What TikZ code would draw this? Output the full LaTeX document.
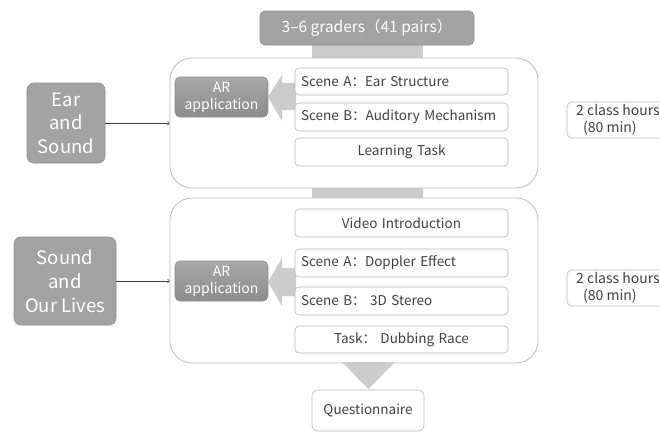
\documentclass[tikz,border=0pt]{standalone}
\usepackage{fontspec}
\setmainfont{Noto Sans CJK SC}
\definecolor{txt}{HTML}{404040}
\definecolor{gfill}{HTML}{A3A3A3}
\definecolor{gbord}{HTML}{8C8C8C}
\definecolor{wbord}{HTML}{B8B8B8}
\definecolor{cbord}{HTML}{BDBDBD}
\definecolor{barfill}{HTML}{CCCCCC}
\begin{document}
\begin{tikzpicture}[x=1pt,y=-1pt,
  graybox/.style={draw=gbord, fill=gfill, rounded corners=7pt, text=white, inner sep=0pt, align=center, line width=0.6pt},
  arbox/.style={draw=gbord, top color=gfill!95, bottom color=gbord, rounded corners=5pt, text=white, inner sep=0pt, align=center, line width=0.6pt, minimum width=93pt, minimum height=40pt, font=\fontsize{14}{17}\selectfont},
  wbox/.style={draw=wbord, fill=white, rounded corners=4pt, inner ysep=0pt, inner xsep=6pt, text=txt, line width=0.6pt, minimum height=28pt, font=\fontsize{13.5}{16}\selectfont},
  sceneleft/.style={wbox, text width=201pt, align=left},
  scenemid/.style={wbox, text width=201pt, align=center},
  container/.style={draw=cbord, rounded corners=22pt, inner sep=0pt, line width=0.8pt},
  barstyle/.style={fill=barfill},
  conn/.style={draw=txt, line width=0.6pt, ->},
  hoursbox/.style={draw=wbord, rounded corners=5pt, line width=0.6pt, inner sep=0pt, minimum width=133pt, minimum height=36pt},
  hourstext/.style={text=txt, inner sep=0pt, align=left, font=\fontsize{14}{17}\selectfont}
]
\useasboundingbox (0,0) rectangle (660,432);
\clip (0,0) rectangle (660,432);
\fill[white] (0,0) rectangle (660,432);

% connecting bars
\fill[barstyle] (312,44) rectangle (423,60);
\fill[barstyle] (312,186) rectangle (423,200);

% containers
\node[container, minimum width=368pt, minimum height=130pt, fill=white] (c1) at (354,123) {};
\node[container, minimum width=368pt, minimum height=165pt, fill=white] (c2) at (354,280.5) {};

% top box
\node[graybox, minimum width=214pt, minimum height=34pt, rounded corners=5pt, font=\fontsize{15.5}{18}\selectfont] (top) at (367,28) {3–6 graders（41 pairs）};

% block arrows
\fill[barfill] (296,83) -- (282,83) -- (282,75) -- (268,97) -- (282,121) -- (282,110) -- (296,110) -- cycle;
\fill[barfill] (296,268) -- (282,268) -- (282,258) -- (268,282) -- (282,306) -- (282,296) -- (296,296) -- cycle;

% section 1
\node[sceneleft, minimum height=27pt] (sa1) at (401.5,81.5) {Scene A：Ear Structure};
\node[sceneleft] (sb1) at (401.5,117) {Scene B：Auditory Mechanism};
\node[scenemid] (lt) at (401.5,152) {Learning Task};
\node[arbox] (ar1) at (221.5,97) {AR\\application};
\node[graybox, minimum width=78pt, minimum height=80pt, font=\fontsize{18.5}{23.5}\selectfont] (ear) at (66,123) {Ear\\and\\Sound};
\draw[conn] (ear.east) -- (ear.east -| c1.west);

% section 2
\node[scenemid] (vid) at (401.5,223) {Video Introduction};
\node[sceneleft] (sa2) at (401.5,263) {Scene A：Doppler Effect};
\node[sceneleft] (sb2) at (401.5,301) {Scene B： 3D Stereo};
\node[scenemid, minimum height=27pt] (task) at (401.5,339.5) {Task： Dubbing Race};
\node[arbox] (ar2) at (221.5,281) {AR\\application};
\node[graybox, minimum width=102pt, minimum height=88pt, font=\fontsize{18.5}{24}\selectfont] (life) at (65,281) {Sound\\and\\Our Lives};
\draw[conn] (life.east) -- (life.east -| c2.west);

% bottom
\fill[barfill] (342,362) -- (395,362) -- (368.5,389) -- cycle;
\node[wbox, minimum width=112pt, minimum height=41pt, inner xsep=0pt, rounded corners=6pt] (quest) at (368,410.5) {Questionnaire};

% class hours
\node[hoursbox] (h1) at (633.5,120) {};
\node[hourstext, anchor=west] (h1t) at (576,120) {2 class hours\\\hspace*{7pt}(80 min)};
\node[hoursbox] (h2) at (633.5,288) {};
\node[hourstext, anchor=west] (h2t) at (576,288) {2 class hours\\\hspace*{7pt}(80 min)};
\end{tikzpicture}
\end{document}
